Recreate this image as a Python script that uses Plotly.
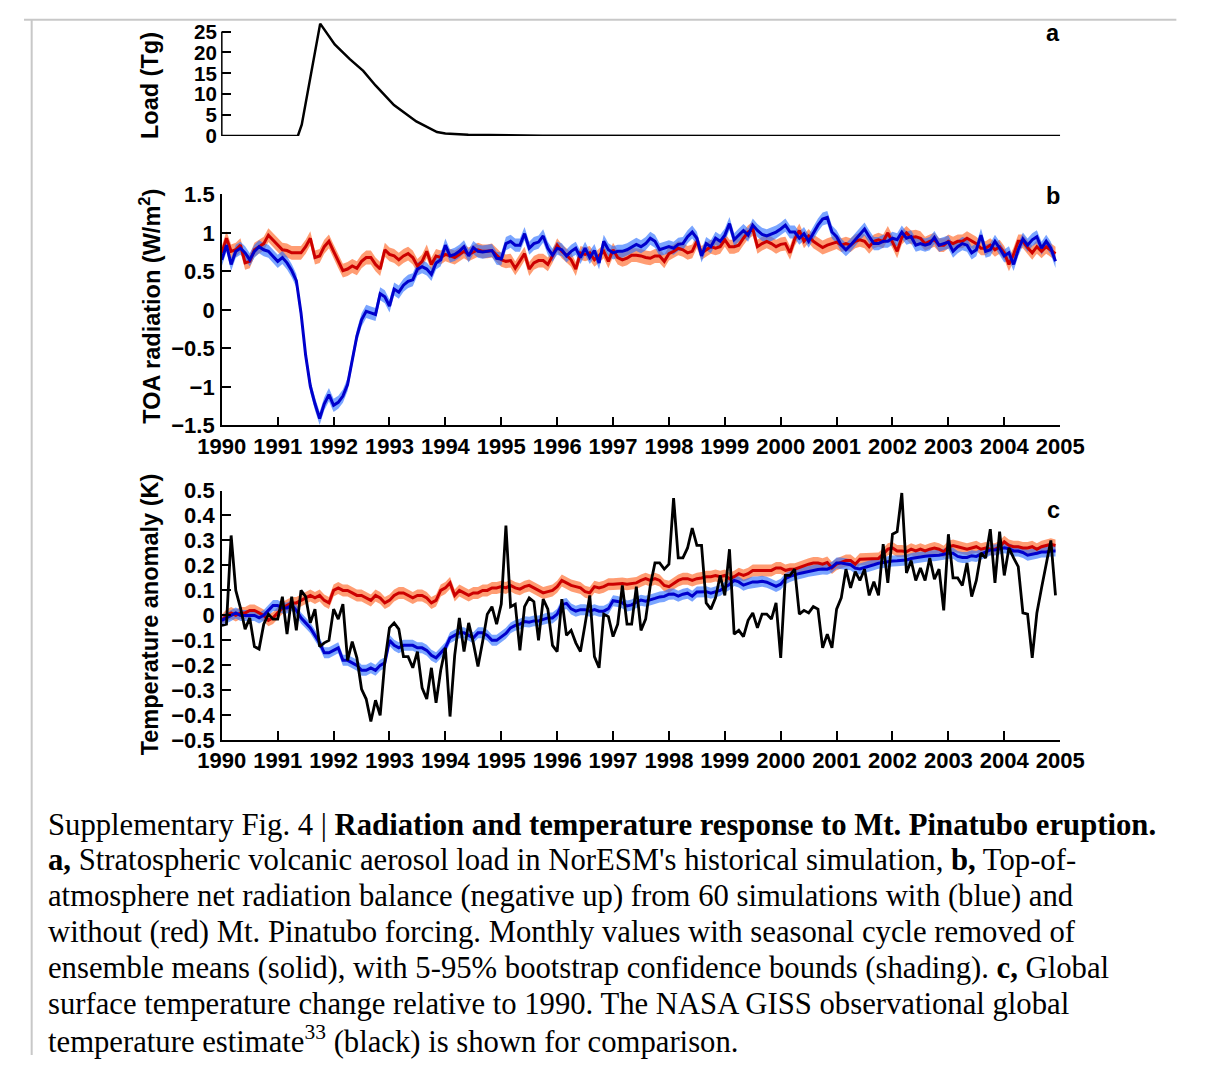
import plotly.graph_objects as go

# ---------------- data ----------------
load_year = [1990.0, 1991.36, 1991.43, 1991.76, 1992.02, 1992.29, 1992.53, 1992.75,
             1993.08, 1993.48, 1993.85, 1994.0, 1994.41, 1995.07, 1995.74, 2005.0]
load_tg = [0, 0, 2.7, 26.9, 21.9, 18.4, 15.6, 12.1, 7.4, 3.5, 0.94, 0.6, 0.3, 0.15, 0.05, 0.0]

start_year = 1990
n_months = 180

toa_red = [0.74, 0.93, 0.76, 0.78, 0.84, 0.61, 0.63, 0.78, 0.82, 0.86,
           0.97, 0.91, 0.84, 0.78, 0.77, 0.74, 0.74, 0.74, 0.82, 0.93,
           0.68, 0.70, 0.82, 0.89, 0.76, 0.63, 0.51, 0.53, 0.57, 0.54,
           0.63, 0.68, 0.68, 0.59, 0.53, 0.78, 0.72, 0.70, 0.65, 0.70,
           0.73, 0.68, 0.57, 0.63, 0.76, 0.59, 0.70, 0.68, 0.72, 0.70,
           0.68, 0.72, 0.76, 0.72, 0.75, 0.78, 0.76, 0.76, 0.77, 0.71,
           0.65, 0.63, 0.64, 0.54, 0.63, 0.73, 0.53, 0.61, 0.64, 0.64,
           0.59, 0.70, 0.84, 0.76, 0.71, 0.65, 0.53, 0.74, 0.72, 0.74,
           0.65, 0.70, 0.76, 0.63, 0.78, 0.68, 0.65, 0.67, 0.71, 0.71,
           0.70, 0.68, 0.67, 0.70, 0.70, 0.63, 0.73, 0.76, 0.80, 0.78,
           0.74, 0.76, 0.89, 0.74, 0.78, 0.82, 0.80, 0.82, 0.91, 0.82,
           0.82, 0.84, 0.93, 1.01, 1.05, 0.82, 0.86, 0.89, 0.86, 0.82,
           0.85, 0.86, 0.74, 0.92, 1.03, 0.89, 0.96, 0.89, 0.85, 0.81,
           0.84, 0.86, 0.88, 0.84, 0.86, 0.84, 0.89, 0.91, 0.89, 0.82,
           0.89, 0.91, 0.89, 1.00, 0.89, 0.76, 0.94, 1.00, 0.94, 0.95,
           0.93, 0.86, 0.89, 0.91, 0.84, 0.84, 0.89, 0.86, 0.89, 0.89,
           0.93, 0.89, 0.86, 0.80, 0.80, 0.84, 0.78, 0.82, 0.74, 0.59,
           0.72, 0.89, 0.89, 0.81, 0.74, 0.82, 0.76, 0.82, 0.78, 0.73]

toa_blue = [0.65, 0.84, 0.59, 0.76, 0.80, 0.74, 0.65, 0.76, 0.82, 0.78,
            0.76, 0.70, 0.63, 0.68, 0.61, 0.51, 0.38, -0.04, -0.59, -0.99,
            -1.22, -1.41, -1.22, -1.10, -1.24, -1.20, -1.12, -0.97, -0.65, -0.34,
            -0.13, -0.02, -0.04, -0.06, 0.21, 0.17, 0.05, 0.27, 0.23, 0.32,
            0.37, 0.39, 0.53, 0.56, 0.53, 0.46, 0.61, 0.65, 0.84, 0.70,
            0.72, 0.76, 0.82, 0.70, 0.81, 0.76, 0.75, 0.76, 0.77, 0.67,
            0.66, 0.86, 0.89, 0.84, 0.84, 0.99, 0.80, 0.86, 0.88, 0.96,
            0.80, 0.71, 0.80, 0.78, 0.70, 0.76, 0.80, 0.68, 0.80, 0.68,
            0.77, 0.61, 0.89, 0.78, 0.74, 0.76, 0.76, 0.78, 0.82, 0.85,
            0.82, 0.86, 0.93, 0.89, 0.78, 0.80, 0.82, 0.80, 0.85, 0.86,
            0.95, 1.01, 0.93, 0.70, 0.86, 0.82, 0.93, 0.89, 0.97, 1.12,
            0.91, 0.97, 1.03, 0.97, 1.10, 1.03, 0.98, 0.96, 0.98, 1.01,
            1.05, 1.10, 1.01, 1.01, 0.93, 0.99, 0.89, 0.99, 1.10, 1.18,
            1.20, 1.01, 0.95, 0.84, 0.78, 0.84, 0.91, 0.99, 1.05, 0.95,
            0.86, 0.86, 0.89, 0.89, 0.93, 0.91, 1.01, 0.93, 0.95, 0.84,
            0.86, 0.84, 0.86, 0.94, 0.84, 0.86, 0.88, 0.76, 0.82, 0.86,
            0.84, 0.74, 0.78, 0.97, 0.76, 0.78, 0.89, 0.80, 0.70, 0.74,
            0.59, 0.78, 0.92, 0.84, 0.91, 0.95, 0.80, 0.89, 0.80, 0.63]

temp_red = [-0.02, 0.0, 0.01, 0.0, 0.01, 0.01, 0.02, 0.02, 0.01, 0.0,
            -0.02, -0.01, 0.01, 0.03, 0.04, 0.05, 0.05, 0.06, 0.07, 0.08,
            0.07, 0.08, 0.06, 0.05, 0.10, 0.11, 0.10, 0.10, 0.09, 0.08,
            0.08, 0.07, 0.06, 0.08, 0.07, 0.05, 0.06, 0.08, 0.09, 0.09,
            0.08, 0.07, 0.08, 0.08, 0.07, 0.05, 0.06, 0.10, 0.11, 0.13,
            0.08, 0.10, 0.09, 0.08, 0.09, 0.09, 0.10, 0.10, 0.11, 0.11,
            0.115, 0.11, 0.12, 0.11, 0.105, 0.115, 0.12, 0.11, 0.10, 0.09,
            0.095, 0.10, 0.115, 0.14, 0.13, 0.12, 0.115, 0.11, 0.095, 0.09,
            0.115, 0.11, 0.115, 0.125, 0.125, 0.128, 0.128, 0.125, 0.128, 0.13,
            0.14, 0.147, 0.14, 0.147, 0.14, 0.12, 0.115, 0.128, 0.14, 0.147,
            0.147, 0.14, 0.147, 0.15, 0.155, 0.155, 0.16, 0.155, 0.16, 0.147,
            0.155, 0.167, 0.16, 0.167, 0.18, 0.18, 0.18, 0.18, 0.18, 0.19,
            0.19, 0.18, 0.185, 0.185, 0.192, 0.2, 0.205, 0.21, 0.21, 0.205,
            0.212, 0.19, 0.205, 0.212, 0.22, 0.22, 0.205, 0.225, 0.225, 0.228,
            0.225, 0.228, 0.245, 0.265, 0.27, 0.258, 0.258, 0.255, 0.265, 0.258,
            0.265, 0.258, 0.265, 0.27, 0.265, 0.255, 0.275, 0.28, 0.275, 0.27,
            0.265, 0.27, 0.275, 0.265, 0.27, 0.265, 0.265, 0.275, 0.295, 0.28,
            0.275, 0.275, 0.27, 0.27, 0.275, 0.265, 0.275, 0.28, 0.285, 0.28]

temp_blue = [-0.02, -0.01, 0.0, 0.01, 0.0, 0.0, 0.0, 0.0, -0.01, 0.0,
             0.02, 0.04, 0.04, 0.03, 0.03, 0.04, 0.02, -0.01, -0.03, -0.05,
             -0.08, -0.11, -0.15, -0.15, -0.14, -0.13, -0.18, -0.18, -0.19, -0.20,
             -0.22, -0.22, -0.21, -0.22, -0.20, -0.19, -0.10, -0.12, -0.13, -0.12,
             -0.12, -0.12, -0.13, -0.13, -0.14, -0.16, -0.17, -0.15, -0.13, -0.09,
             -0.08, -0.07, -0.07, -0.08, -0.09, -0.07, -0.07, -0.08, -0.10, -0.10,
             -0.085, -0.072, -0.05, -0.04, -0.035, -0.025, -0.027, -0.022, -0.022, -0.015,
             -0.01, -0.01, 0.005, 0.043, 0.048, 0.026, 0.017, 0.023, 0.023, 0.017,
             0.023, 0.017, 0.017, 0.027, 0.059, 0.056, 0.05, 0.038, 0.042, 0.053,
             0.061, 0.057, 0.061, 0.068, 0.074, 0.076, 0.085, 0.086, 0.077, 0.085,
             0.089, 0.077, 0.094, 0.095, 0.095, 0.089, 0.095, 0.10, 0.113, 0.124,
             0.14, 0.134, 0.121, 0.128, 0.134, 0.134, 0.137, 0.133, 0.125, 0.116,
             0.125, 0.147, 0.156, 0.163, 0.168, 0.172, 0.177, 0.181, 0.184, 0.186,
             0.185, 0.193, 0.21, 0.21, 0.205, 0.203, 0.189, 0.186, 0.192, 0.196,
             0.203, 0.209, 0.213, 0.215, 0.218, 0.219, 0.219, 0.222, 0.228, 0.232,
             0.233, 0.237, 0.239, 0.239, 0.241, 0.245, 0.249, 0.249, 0.236, 0.232,
             0.232, 0.239, 0.236, 0.245, 0.254, 0.262, 0.262, 0.265, 0.271, 0.267,
             0.258, 0.258, 0.252, 0.241, 0.244, 0.249, 0.254, 0.254, 0.258, 0.258]

giss_obs = [-0.04, -0.035, 0.32, 0.10, 0.03, -0.055, -0.01, -0.125, -0.135, -0.035,
            0.005, -0.015, -0.015, 0.075, -0.075, 0.075, -0.06, 0.10, 0.075, -0.03,
            0.025, -0.125, -0.11, -0.10, 0.025, -0.015, 0.045, -0.18, -0.105, -0.17,
            -0.295, -0.335, -0.425, -0.34, -0.40, -0.185, -0.05, -0.03, -0.055, -0.165,
            -0.165, -0.21, -0.145, -0.29, -0.335, -0.21, -0.35, -0.22, -0.13, -0.405,
            -0.16, -0.01, -0.145, -0.03, -0.11, -0.205, -0.105, 0.005, 0.035, -0.035,
            0.045, 0.36, 0.035, 0.045, -0.14, 0.035, 0.07, 0.055, -0.10, 0.065,
            0.025, -0.12, -0.145, 0.065, -0.08, -0.06, -0.11, -0.145, -0.035, 0.08,
            -0.165, -0.21, 0.005, -0.005, -0.085, -0.035, 0.12, -0.035, -0.035, 0.115,
            -0.06, -0.015, 0.12, 0.21, 0.21, 0.185, 0.205, 0.47, 0.23, 0.23,
            0.27, 0.35, 0.28, 0.28, 0.05, 0.025, 0.07, 0.16, 0.08, 0.265,
            -0.075, -0.06, -0.085, -0.02, 0.01, -0.05, 0.005, 0.005, -0.015, 0.05,
            -0.17, 0.16, 0.16, 0.185, 0.005, 0.02, 0.01, 0.035, 0.025, -0.13,
            -0.075, -0.13, 0.025, 0.07, 0.185, 0.11, 0.175, 0.14, 0.185, 0.08,
            0.135, 0.08, 0.285, 0.13, 0.325, 0.335, 0.49, 0.17, 0.22, 0.14,
            0.19, 0.14, 0.23, 0.145, 0.185, 0.02, 0.325, 0.15, 0.15, 0.12,
            0.21, 0.075, 0.14, 0.25, 0.23, 0.345, 0.13, 0.335, 0.16, 0.27,
            0.23, 0.195, 0.01, 0.005, -0.17, 0.01, 0.11, 0.21, 0.30, 0.08]

# 5-95% confidence half-widths read from the shading
toa_red_ci = 0.09
toa_blue_ci = 0.085
temp_red_ci = 0.024
temp_blue_ci = 0.022

year_ticks = list(range(1990, 2006))
load_ticks = [0, 5, 10, 15, 20, 25]
toa_ticks = [-1.5, -1, -0.5, 0, 0.5, 1, 1.5]
toa_ticktext = ["\u22121.5", "\u22121", "\u22120.5", "0", "0.5", "1", "1.5"]
temp_ticks = [-0.5, -0.4, -0.3, -0.2, -0.1, 0, 0.1, 0.2, 0.3, 0.4, 0.5]
temp_ticktext = ["\u22120.5", "\u22120.4", "\u22120.3", "\u22120.2", "\u22120.1", "0",
                 "0.1", "0.2", "0.3", "0.4", "0.5"]

caption_lines = [
    "Supplementary Fig. 4 | <b>Radiation and temperature response to Mt. Pinatubo eruption.</b>",
    "<b>a,</b> Stratospheric volcanic aerosol load in NorESM's historical simulation, <b>b,</b> Top-of-",
    "atmosphere net radiation balance (negative up) from 60 simulations with (blue) and",
    "without (red) Mt. Pinatubo forcing. Monthly values with seasonal cycle removed of",
    "ensemble means (solid), with 5-95% bootstrap confidence bounds (shading). <b>c,</b> Global",
    "surface temperature change relative to 1990. The NASA GISS observational global",
    "temperature estimate<sup>33</sup> (black) is shown for comparison.",
]

# ---------------- figure ----------------
W, H = 1209, 1068
months = [start_year + i / 12 for i in range(n_months)]


def px(x):
    return x / W


def py(y):
    return 1 - y / H


RED_LINE = "#cc0000"
BLUE_LINE = "#0000cc"
RED_FILL = "rgba(255,105,40,0.65)"
BLUE_FILL = "rgba(40,110,255,0.62)"

fig = go.Figure()


def band(vals, hw, color, xa, ya):
    up = [v + hw for v in vals]
    lo = [v - hw for v in vals]
    fig.add_trace(go.Scatter(x=months + months[::-1], y=up + lo[::-1], fill="toself",
                             fillcolor=color, line=dict(width=0), mode="lines",
                             hoverinfo="skip", showlegend=False, xaxis=xa, yaxis=ya))


def line(xs, vals, color, w, xa, ya):
    fig.add_trace(go.Scatter(x=xs, y=vals, mode="lines", line=dict(color=color, width=w),
                             showlegend=False, xaxis=xa, yaxis=ya))


# panel a
line(load_year, load_tg, "black", 2.5, "x", "y")
# panel b
band(toa_red, toa_red_ci, RED_FILL, "x2", "y2")
band(toa_blue, toa_blue_ci, BLUE_FILL, "x2", "y2")
line(months, toa_red, RED_LINE, 3, "x2", "y2")
line(months, toa_blue, BLUE_LINE, 3, "x2", "y2")
# panel c
band(temp_red, temp_red_ci, RED_FILL, "x3", "y3")
band(temp_blue, temp_blue_ci, BLUE_FILL, "x3", "y3")
line(months, temp_red, RED_LINE, 3, "x3", "y3")
line(months, temp_blue, BLUE_LINE, 3, "x3", "y3")
line(months, giss_obs, "black", 2.8, "x3", "y3")

FAMILY = "Liberation Sans, Arial, sans-serif"
tickfont = dict(family=FAMILY, size=22, color="black", weight="bold")
xdom = [px(206), px(1079)]

common_x = dict(range=[1990, 2005], domain=xdom, tickmode="array", tickvals=year_ticks,
                ticks="inside", ticklen=9, tickwidth=1.5, tickcolor="black",
                showline=True, linecolor="black", linewidth=1.5, showgrid=False,
                zeroline=False, tickfont=tickfont, ticklabelstandoff=0)
common_y = dict(ticks="inside", ticklen=9, tickwidth=1.5, tickcolor="black",
                showline=True, linecolor="black", linewidth=1.5, showgrid=False,
                zeroline=False, tickfont=tickfont, tickmode="array", ticklabelstandoff=1)

fig.update_layout(
    width=W, height=H, margin=dict(l=0, r=0, t=0, b=0),
    paper_bgcolor="white", plot_bgcolor="rgba(0,0,0,0)", showlegend=False,
    xaxis=dict(range=[1990, 2005], domain=xdom, anchor="y", visible=False),
    yaxis=dict(common_y, range=[0, 27.3], domain=[py(127), py(10.2)], anchor="x",
               tickvals=load_ticks, showline=False, ticklabelstandoff=4,
               tickfont=dict(family=FAMILY, size=20.5, color="black", weight="bold")),
    xaxis2=dict(common_x, anchor="y2"),
    yaxis2=dict(common_y, range=[-1.5, 1.5], domain=[py(423.3), py(186.7)], anchor="x2",
                tickvals=toa_ticks, ticktext=toa_ticktext),
    xaxis3=dict(common_x, anchor="y3"),
    yaxis3=dict(common_y, range=[-0.5, 0.5], domain=[py(745.7), py(490)], anchor="x3",
                tickvals=temp_ticks, ticktext=temp_ticktext),
)

# y axis line for panel a (only up to top tick)
fig.add_shape(type="line", xref="x domain", yref="y", x0=0, x1=0, y0=0, y1=25,
              line=dict(color="black", width=1.5))

# frame lines
fig.add_shape(type="line", xref="paper", yref="paper", x0=0, x1=px(1200), y0=py(8), y1=py(8),
              line=dict(color="#c8c8c8", width=2))
fig.add_shape(type="line", xref="paper", yref="paper", x0=px(8), x1=px(8), y0=0, y1=py(8),
              line=dict(color="#c8c8c8", width=2))

title_font = dict(family=FAMILY, size=23.5, color="black", weight="bold")
for text, yc in [("Load (Tg)", 75), ("TOA radiation (W/m<sup>2</sup>)", 301),
                 ("Temperature anomaly (K)", 617)]:
    fig.add_annotation(text=text, xref="paper", yref="paper", x=px(131), y=py(yc),
                       textangle=-90, showarrow=False, font=title_font,
                       xanchor="center", yanchor="middle")

for letter, yc in [("a", 22), ("b", 188), ("c", 510)]:
    fig.add_annotation(text=letter, xref="paper", yref="paper", x=px(1072), y=py(yc),
                       showarrow=False, font=title_font, xanchor="center", yanchor="middle")

cap_font = dict(family="Liberation Serif, Times New Roman, serif", size=30.7, color="black")
for k, txt in enumerate(caption_lines):
    fig.add_annotation(text=txt, xref="paper", yref="paper", x=px(23), y=py(832 + k * 36.7),
                       showarrow=False, font=cap_font, xanchor="left", yanchor="middle",
                       align="left")

fig.write_html("out.html")
